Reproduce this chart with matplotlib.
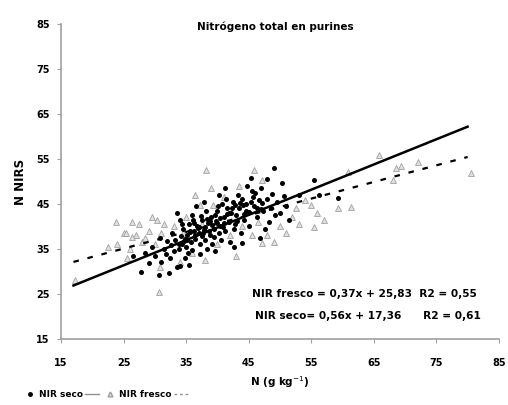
import matplotlib.pyplot as plt
from matplotlib.lines import Line2D

# NIR seco (puntos negros)
seco_x = [27.8, 29.0, 30.6, 30.0, 28.5, 29.5, 26.5,
          31.0, 32.2, 32.5, 31.5, 32.0, 33.0, 33.5, 30.8, 32.8,
          33.8, 34.2, 34.5, 34.0, 35.0, 35.2, 35.5, 35.8, 34.8, 36.0, 33.5, 35.5, 34.0, 36.2, 36.5, 34.6, 35.3,
          36.8, 37.0, 37.3, 37.5, 37.8, 38.0, 38.2, 38.5, 38.8, 39.0, 37.2, 38.4, 36.6, 39.2, 37.9, 39.5,
          39.8, 40.0, 40.2, 40.5, 40.8, 41.0, 41.2, 41.5, 41.8, 42.0, 40.3, 41.3, 39.6, 42.2, 40.6,
          42.5, 42.8, 43.0, 43.3, 43.5, 43.8, 44.0, 44.2, 44.5, 44.8, 45.0, 42.6, 43.9, 45.3,
          45.3, 45.8, 46.0, 46.3, 46.6, 47.0, 47.3, 47.6, 48.0, 48.2, 46.8, 47.9,
          49.1, 48.5, 48.8, 49.2, 49.5, 50.3, 50.0, 50.6, 51.0, 51.5,
          55.4, 56.2, 59.3, 53.0,
          35.6, 36.9, 38.6, 39.9, 41.6, 37.6, 36.3, 34.9, 38.9, 40.9, 42.9, 44.6,
          33.2, 33.9, 34.4, 35.1, 35.7, 36.4, 37.1, 37.7, 38.3, 39.1, 39.7, 40.4,
          41.1, 41.9, 42.4, 43.1, 43.7, 44.3, 45.1, 45.7, 46.4, 47.1, 32.6, 31.8,
          36.1, 37.4, 38.1, 39.4, 40.1, 41.4, 42.7, 44.1, 45.6, 46.9, 34.3, 35.9]
seco_y = [29.9, 31.9, 29.2, 33.5, 34.0, 35.5, 33.5,
          32.0, 29.7, 33.0, 35.0, 36.8, 34.5, 31.0, 37.5, 38.5,
          36.0, 37.8, 39.5, 41.5, 35.5, 38.0, 40.5, 36.5, 33.0, 42.5, 43.0, 31.5, 31.2, 39.0, 37.2, 36.8, 34.2,
          40.0, 38.5, 36.0, 41.5, 39.2, 37.0, 43.5, 40.8, 38.0, 42.0, 33.8, 35.0, 44.5, 36.2, 45.5, 39.5,
          41.2, 43.5, 38.5, 40.2, 45.0, 42.0, 39.0, 44.0, 41.0, 36.5, 47.0, 48.5, 34.5, 43.0, 37.0,
          45.5, 40.5, 42.5, 47.0, 44.0, 38.5, 46.0, 41.5, 43.5, 49.0, 40.0, 35.5, 36.3, 45.5,
          50.8, 44.5, 47.5, 42.0, 45.8, 48.5, 43.5, 39.5, 46.0, 41.0, 37.5, 50.5,
          53.0, 44.0, 47.2, 42.5, 45.5, 49.7, 43.0, 46.8, 44.5, 41.5,
          50.3, 47.0, 46.3, 47.0,
          38.8, 39.6, 39.0, 40.8, 42.8, 37.8, 40.8, 37.3, 41.3, 39.8, 44.8, 44.9,
          36.9, 35.1, 36.2, 37.1, 38.9, 38.1, 39.9, 38.6, 41.7, 40.3, 42.6, 41.8,
          40.7, 42.9, 44.1, 41.2, 45.3, 42.8, 43.1, 46.6, 44.2, 45.1, 35.9, 33.9,
          41.4, 42.3, 39.8, 37.7, 44.6, 46.2, 39.4, 44.7, 47.9, 43.9, 40.6, 34.8]

# NIR fresco (triangulos grises)
fresco_x = [17.2, 23.8, 26.4, 30.3, 30.6, 24.0, 25.0, 26.0, 27.0, 28.0, 22.5, 25.5, 27.5, 29.0, 28.5,
            30.0, 31.0, 31.5, 29.5, 30.9, 25.4, 26.4,
            37.2, 39.3, 38.2, 45.9, 47.2, 47.2, 54.0, 34.0, 33.0, 35.0, 36.0, 38.0, 40.0, 42.0, 43.0,
            44.0, 45.5, 46.5, 48.0, 49.0, 50.0, 51.0, 52.0, 53.0, 41.0, 43.5, 36.5, 39.0, 34.5, 37.5,
            55.0, 55.9, 55.4, 57.1, 59.3, 61.4, 65.8, 72.1, 80.6, 68.5, 69.3, 68.0, 60.9, 52.5]
fresco_y = [28.1, 41.0, 41.0, 41.4, 25.4, 36.0, 38.5, 35.0, 38.0, 36.5, 35.5, 33.0, 40.5, 39.0, 37.5,
            36.0, 38.5, 40.5, 42.0, 31.0, 38.6, 37.7,
            44.8, 44.8, 52.6, 52.6, 50.3, 36.3, 45.9, 32.1, 40.0, 42.0, 34.0, 32.5, 36.0, 38.0, 33.5,
            40.0, 38.0, 41.0, 38.0, 36.5, 40.0, 38.5, 42.0, 40.5, 46.5, 49.0, 47.0, 48.5, 38.5, 40.5,
            44.8, 43.0, 39.9, 41.4, 44.1, 44.3, 55.9, 54.3, 51.9, 53.0, 53.5, 50.3, 52.1, 44.0]

# rectas de regresion
x_fit = [17, 80]
seco_fit = [0.56 * v + 17.36 for v in x_fit]
fresco_fit = [0.37 * v + 25.83 for v in x_fit]

fig = plt.figure(figsize=(5.08, 4.05), dpi=100)
ax = fig.add_axes([0.120, 0.163, 0.862, 0.778])

ax.scatter(fresco_x, fresco_y, marker='^', s=18, facecolor='#e0e0e0',
           edgecolor='#a0a0a0', linewidth=0.6, zorder=2)
ax.scatter(seco_x, seco_y, marker='o', s=13, color='black', linewidth=0, zorder=3)
ax.plot(x_fit, seco_fit, color='black', linewidth=1.8, zorder=4)
ax.plot(x_fit, fresco_fit, color='black', linewidth=1.6, dashes=(2.5, 4), zorder=4)

ax.set_xlim(15, 85)
ax.set_ylim(15, 85)
ax.set_xticks(range(15, 86, 10))
ax.set_yticks(range(15, 86, 10))
for s in ['top', 'right']:
    ax.spines[s].set_visible(False)
for s in ['left', 'bottom']:
    ax.spines[s].set_color('#a0a0a0')
    ax.spines[s].set_linewidth(1.2)
ax.tick_params(colors='#a0a0a0', labelcolor='black', labelsize=7, length=3)
ax.tick_params(axis='x', pad=11)
ax.tick_params(axis='y', pad=5)
for lab in ax.get_xticklabels() + ax.get_yticklabels():
    lab.set_fontweight('bold')

# titulo dentro del area, a la altura del 85
ax.text(0.49, 0.99, 'Nitrógeno total en purines', transform=ax.transAxes,
        ha='center', va='center', fontsize=7.5, fontweight='bold')
ax.set_xlabel('N (g kg$^{-1}$)', fontsize=7.5, fontweight='bold', labelpad=4, x=0.50)
ax.set_ylabel('N NIRS', fontsize=8.5, fontweight='bold', labelpad=7)

ax.text(0.437, 0.133, 'NIR fresco = 0,37x + 25,83  R2 = 0,55', transform=ax.transAxes,
        ha='left', fontsize=7.6, fontweight='bold')
ax.text(0.443, 0.063, 'NIR seco= 0,56x + 17,36      R2 = 0,61', transform=ax.transAxes,
        ha='left', fontsize=7.6, fontweight='bold')

handles = [Line2D([], [], marker='o', color='black', markersize=2.5, linestyle='none'),
           Line2D([], [], color='#909090', linewidth=1),
           Line2D([], [], marker='^', markerfacecolor='#e0e0e0', markeredgecolor='#a0a0a0',
                  markersize=3.5, linestyle='none'),
           Line2D([], [], color='#909090', linewidth=1, dashes=(2, 2))]
fig.legend(handles, ['NIR seco', '', 'NIR fresco', ''], ncol=4, loc='lower left',
           bbox_to_anchor=(0.03, -0.005), frameon=False, handlelength=1.5,
           handletextpad=0.2, columnspacing=0.3, prop={'weight': 'bold', 'size': 6.5})

fig.savefig('out.png', dpi=100)
